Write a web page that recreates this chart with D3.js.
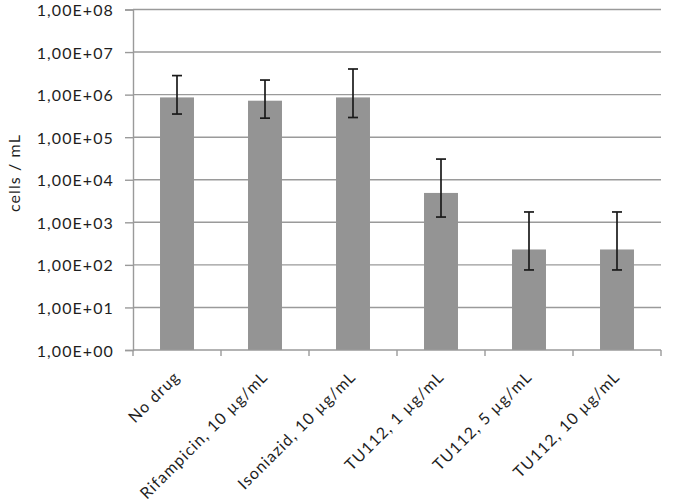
<!DOCTYPE html>
<html><head><meta charset="utf-8">
<script src="https://cdn.jsdelivr.net/npm/d3@7"></script>
<style>body{margin:0;background:#fff}svg{display:block}</style>
</head><body>
<svg id="c" width="680" height="503"></svg>
<script>
const categories = ["No drug","Rifampicin, 10 \u00b5g/mL","Isoniazid, 10 \u00b5g/mL","TU112, 1 \u00b5g/mL","TU112, 5 \u00b5g/mL","TU112, 10 \u00b5g/mL"];
const values = [8.6e5, 7.2e5, 8.6e5, 4.9e3, 230, 230];
const errLow = [3.5e5, 2.8e5, 2.9e5, 1.33e3, 76, 76];
const errHigh = [2.8e6, 2.2e6, 4.0e6, 3.06e4, 1.75e3, 1.75e3];
const yTicks = [1e0,1e1,1e2,1e3,1e4,1e5,1e6,1e7,1e8];
const yTickLabels = ["1,00E+00","1,00E+01","1,00E+02","1,00E+03","1,00E+04","1,00E+05","1,00E+06","1,00E+07","1,00E+08"];
const yTitle = "cells / mL";

const svg = d3.select("#c");
const m = {l:133, r:661, t:9.5, b:350};
const font = "Lato, 'Open Sans', sans-serif";
const fs = 16, ls = "1.1px", txt = "#1e1e1e";
const x = d3.scaleBand().domain(categories).range([m.l, m.r]).paddingInner(0.614).paddingOuter(0.307);
const y = d3.scaleLog().domain([1, 1e8]).range([m.b, m.t]);

// gridlines
svg.append("g").selectAll("line").data(yTicks.slice(1)).join("line")
  .attr("x1", m.l).attr("x2", m.r).attr("y1", d=>y(d)).attr("y2", d=>y(d))
  .attr("stroke", "#9a9a9a").attr("stroke-width", 1.4);

// bars
svg.append("g").selectAll("rect").data(values).join("rect")
  .attr("x", (d,i)=>x(categories[i])).attr("width", x.bandwidth())
  .attr("y", d=>y(d)).attr("height", d=>m.b - y(d))
  .attr("fill", "#949494");

// y axis
const ya = svg.append("g").attr("transform", `translate(${m.l},0)`)
  .call(d3.axisLeft(y).tickValues(yTicks).tickFormat((d,i)=>yTickLabels[i]).tickSize(8).tickPadding(11));
ya.select(".domain").attr("stroke", "#9a9a9a").attr("stroke-width", 1.4);
ya.selectAll(".tick line").attr("stroke", "#9a9a9a").attr("stroke-width", 1.4);
ya.selectAll("text").attr("font-family", font).attr("font-size", fs).attr("letter-spacing", ls).attr("fill", txt)
  .attr("dy", "0.38em");

// x axis
const xa = svg.append("g").attr("transform", `translate(0,${m.b})`)
  .call(d3.axisBottom(x).tickSize(0).tickPadding(0));
xa.select(".domain").remove();
svg.append("g").selectAll("line").data(d3.range(categories.length+1)).join("line")
  .attr("x1", i=>m.l + i*x.step()).attr("x2", i=>m.l + i*x.step())
  .attr("y1", m.b).attr("y2", m.b+6).attr("stroke", "#9a9a9a").attr("stroke-width", 1.4);
svg.append("line").attr("x1", m.l).attr("x2", m.r).attr("y1", m.b).attr("y2", m.b)
  .attr("stroke", "#9a9a9a").attr("stroke-width", 1.4);
xa.selectAll("text")
  .attr("font-family", font).attr("font-size", fs).attr("letter-spacing", ls).attr("fill", txt)
  .attr("text-anchor", "end").attr("dy", "0.35em")
  .attr("transform", "translate(0,24) rotate(-45)");

// error bars
const eb = svg.append("g").attr("stroke", "#1a1a1a").attr("stroke-width", 1.7);
values.forEach((v,i)=>{
  const cx = x(categories[i]) + x.bandwidth()/2;
  eb.append("line").attr("x1", cx).attr("x2", cx).attr("y1", y(errLow[i])).attr("y2", y(errHigh[i]));
  eb.append("line").attr("x1", cx-5).attr("x2", cx+5).attr("y1", y(errLow[i])).attr("y2", y(errLow[i]));
  eb.append("line").attr("x1", cx-5).attr("x2", cx+5).attr("y1", y(errHigh[i])).attr("y2", y(errHigh[i]));
});

// y title
svg.append("text").attr("transform", "translate(20,173) rotate(-90)")
  .attr("text-anchor", "middle").attr("font-family", font).attr("font-size", fs).attr("letter-spacing", ls).attr("fill", txt)
  .text(yTitle);
</script>
</body></html>
